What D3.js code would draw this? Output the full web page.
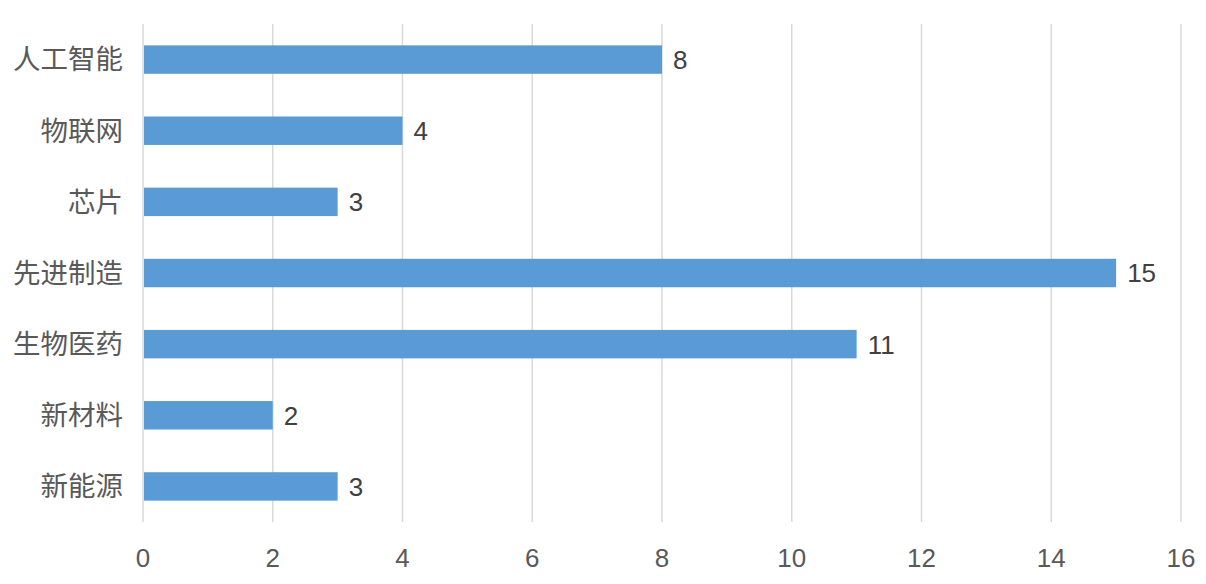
<!DOCTYPE html>
<html><head><meta charset="utf-8">
<script src="https://cdn.jsdelivr.net/npm/d3@7"></script>
<style>
html,body{margin:0;padding:0;background:#fff;}
text{font-family:"Liberation Sans","Noto Sans CJK SC",sans-serif;}
</style></head>
<body><svg id="c" width="1206" height="584"></svg>
<script>
const categories = ["人工智能","物联网","芯片","先进制造","生物医药","新材料","新能源"];
const values = [8,4,3,15,11,2,3];
const xTicks = [0,2,4,6,8,10,12,14,16];

const svg = d3.select("#c");
const x = d3.scaleLinear().domain([0,16]).range([143,1181]);
const y = d3.scaleBand().domain(categories).range([24,522]).paddingInner(0.6).paddingOuter(0.3);

// gridlines
svg.append("g").selectAll("line").data(xTicks).join("line")
  .attr("x1",d=>x(d)).attr("x2",d=>x(d)).attr("y1",24).attr("y2",522)
  .attr("stroke","#d9d9d9").attr("stroke-width",1.5);

// bars
svg.append("g").selectAll("rect").data(values).join("rect")
  .attr("x",x(0)+1).attr("y",(d,i)=>y(categories[i]))
  .attr("width",d=>x(d)-x(0)-1).attr("height",y.bandwidth())
  .attr("fill","#5b9bd5");

// value labels
svg.append("g").selectAll("text").data(values).join("text")
  .attr("x",d=>x(d)+11).attr("y",(d,i)=>y(categories[i])+y.bandwidth()/2)
  .attr("dy","0.36em").attr("font-size",26).attr("fill","#404040")
  .text(d=>d);

// category labels
svg.append("g").selectAll("text").data(categories).join("text")
  .attr("x",123).attr("y",d=>y(d)+y.bandwidth()/2)
  .attr("dy","0.36em").attr("text-anchor","end").attr("font-size",27.5).attr("fill","#595959")
  .text(d=>d);

// x tick labels
svg.append("g").selectAll("text").data(xTicks).join("text")
  .attr("x",d=>x(d)).attr("y",558).attr("dy","0.36em")
  .attr("text-anchor","middle").attr("font-size",26).attr("fill","#595959")
  .text(d=>d);
</script></body></html>
